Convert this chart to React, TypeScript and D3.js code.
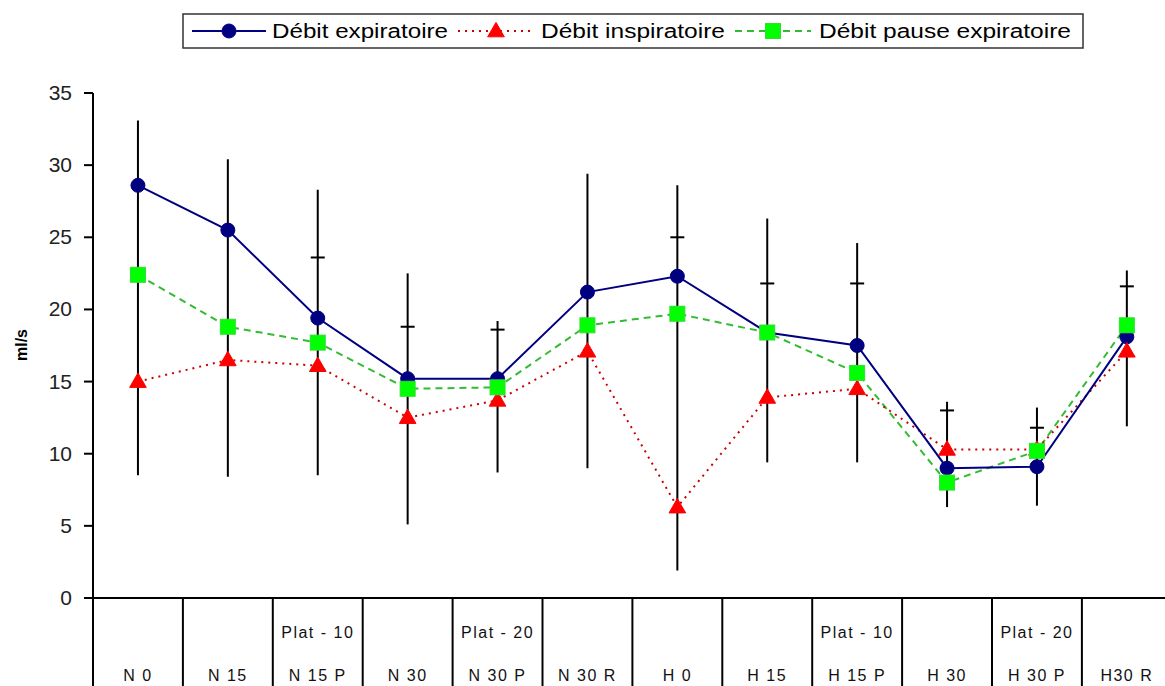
import React from "react";
import * as d3 from "d3";

const categories = ["N 0", "N 15", "N 15 P", "N 30", "N 30 P", "N 30 R", "H 0", "H 15", "H 15 P", "H 30", "H 30 P", "H30 R"];
const subLabels = ["", "", "Plat - 10", "", "Plat - 20", "", "", "", "Plat - 10", "", "Plat - 20", ""];
const expiratoire = [28.6, 25.5, 19.4, 15.2, 15.2, 21.2, 22.3, 18.4, 17.5, 9.0, 9.1, 18.1];
const inspiratoire = [15.0, 16.5, 16.1, 12.5, 13.7, 17.1, 6.3, 13.9, 14.5, 10.3, 10.3, 17.1];
const pauseExp = [22.4, 18.8, 17.7, 14.5, 14.6, 18.9, 19.7, 18.4, 15.6, 8.0, 10.2, 18.9];
const errHigh = [33.1, 30.4, 28.3, 22.5, 19.2, 29.4, 28.6, 26.3, 24.6, 13.6, 13.2, 22.7];
const errLow = [8.5, 8.4, 8.5, 5.1, 8.7, 9.0, 1.9, 9.4, 9.4, 6.3, 6.4, 11.9];
const errCap: (number | null)[] = [null, null, 23.6, 18.8, 18.6, null, 25.0, 21.8, 21.8, 13.0, 11.8, 21.6];
const yTicks = [0, 5, 10, 15, 20, 25, 30, 35];
const seriesNames = ["Débit expiratoire", "Débit inspiratoire", "Débit pause expiratoire"];

const W = 1165;
const H = 686;
const FONT = "Arial, 'Liberation Sans', sans-serif";

export default function App() {
  const x = d3.scaleBand<string>().domain(categories).range([93, 93 + 12 * 89.9]).padding(0);
  const y = d3.scaleLinear().domain([0, 35]).range([598, 93]);
  const cx = (c: string) => (x(c) as number) + x.bandwidth() / 2;
  const line = d3
    .line<number>()
    .x((_, i) => cx(categories[i]))
    .y((v) => y(v));

  const tri = d3.symbol().type(d3.symbolTriangle).size(120)() as string;

  const circleMarker = (px: number, py: number, key: string) => (
    <circle key={key} cx={px} cy={py} r={7} fill="#000080" stroke="#000080" />
  );
  const triMarker = (px: number, py: number, key: string) => (
    <path key={key} d={tri} transform={`translate(${px},${py + 1})`} fill="#ff0000" stroke="#ff0000" strokeWidth={1} />
  );
  const squareMarker = (px: number, py: number, key: string) => (
    <rect key={key} x={px - 7.5} y={py - 7.5} width={15} height={15} fill="#00ff00" stroke="#33dd33" strokeWidth={1} />
  );

  const legendY = 31;

  return (
    <svg width={W} height={H} style={{ position: "absolute", left: 0, top: 0, background: "#fff" }} fontFamily={FONT}>
      <rect x={0} y={0} width={W} height={H} fill="#fff" />

      {/* Legend */}
      <rect x={183} y={14} width={900} height={34} fill="#fff" stroke="#333" strokeWidth={1.5} />
      <line x1={192} x2={266} y1={legendY} y2={legendY} stroke="#000080" strokeWidth={2} />
      {circleMarker(229, legendY, "lg1")}
      <text x={272} y={legendY + 7} fontSize={20} textLength={176} lengthAdjust="spacingAndGlyphs" fill="#000">
        {seriesNames[0]}
      </text>
      <line x1={458} x2={534} y1={legendY} y2={legendY} stroke="#cc0000" strokeWidth={2} strokeDasharray="2,5" />
      {triMarker(496, legendY, "lg2")}
      <text x={541} y={legendY + 7} fontSize={20} textLength={184} lengthAdjust="spacingAndGlyphs" fill="#000">
        {seriesNames[1]}
      </text>
      <line x1={735} x2={811} y1={legendY} y2={legendY} stroke="#33bb33" strokeWidth={2} strokeDasharray="7,5" />
      {squareMarker(773, legendY, "lg3")}
      <text x={819} y={legendY + 7} fontSize={20} textLength={252} lengthAdjust="spacingAndGlyphs" fill="#000">
        {seriesNames[2]}
      </text>

      {/* Y axis */}
      <line x1={93} x2={93} y1={93} y2={H} stroke="#000" strokeWidth={2} />
      {yTicks.map((t) => (
        <g key={t}>
          <line x1={84} x2={93} y1={y(t)} y2={y(t)} stroke="#000" strokeWidth={2} />
          <text x={72} y={y(t) + 7} fontSize={21} textAnchor="end" fill="#222">
            {t}
          </text>
        </g>
      ))}
      <text
        transform={`translate(27,345) rotate(-90)`}
        fontSize={16}
        fontWeight="bold"
        textAnchor="middle"
        fill="#000"
      >
        ml/s
      </text>

      {/* X axis table */}
      <line x1={93} x2={W} y1={598} y2={598} stroke="#000" strokeWidth={2} />
      {categories.map((c, i) => (
        <g key={c}>
          {i > 0 && (
            <line x1={x(c) as number} x2={x(c) as number} y1={598} y2={H} stroke="#000" strokeWidth={2} />
          )}
          <text x={cx(c)} y={638} fontSize={16} textAnchor="middle" letterSpacing={1.5} fill="#111">
            {subLabels[i]}
          </text>
          <text x={cx(c)} y={681} fontSize={16} textAnchor="middle" letterSpacing={1.5} fill="#111">
            {c}
          </text>
        </g>
      ))}

      {/* Series lines */}
      <path d={line(pauseExp) as string} fill="none" stroke="#33bb33" strokeWidth={2} strokeDasharray="7,5" />
      <path d={line(inspiratoire) as string} fill="none" stroke="#cc0000" strokeWidth={2} strokeDasharray="2,5" />
      <path d={line(expiratoire) as string} fill="none" stroke="#000080" strokeWidth={2} />

      {/* Error bars */}
      {categories.map((c, i) => (
        <g key={"e" + c}>
          <line x1={cx(c)} x2={cx(c)} y1={y(errHigh[i])} y2={y(errLow[i])} stroke="#000" strokeWidth={2} />
          {errCap[i] !== null && (
            <line
              x1={cx(c) - 7}
              x2={cx(c) + 7}
              y1={y(errCap[i] as number)}
              y2={y(errCap[i] as number)}
              stroke="#000"
              strokeWidth={2}
            />
          )}
        </g>
      ))}

      {/* Markers */}
      {expiratoire.map((v, i) => circleMarker(cx(categories[i]), y(v), "b" + i))}
      {inspiratoire.map((v, i) => triMarker(cx(categories[i]), y(v), "r" + i))}
      {pauseExp.map((v, i) => squareMarker(cx(categories[i]), y(v), "g" + i))}
    </svg>
  );
}
